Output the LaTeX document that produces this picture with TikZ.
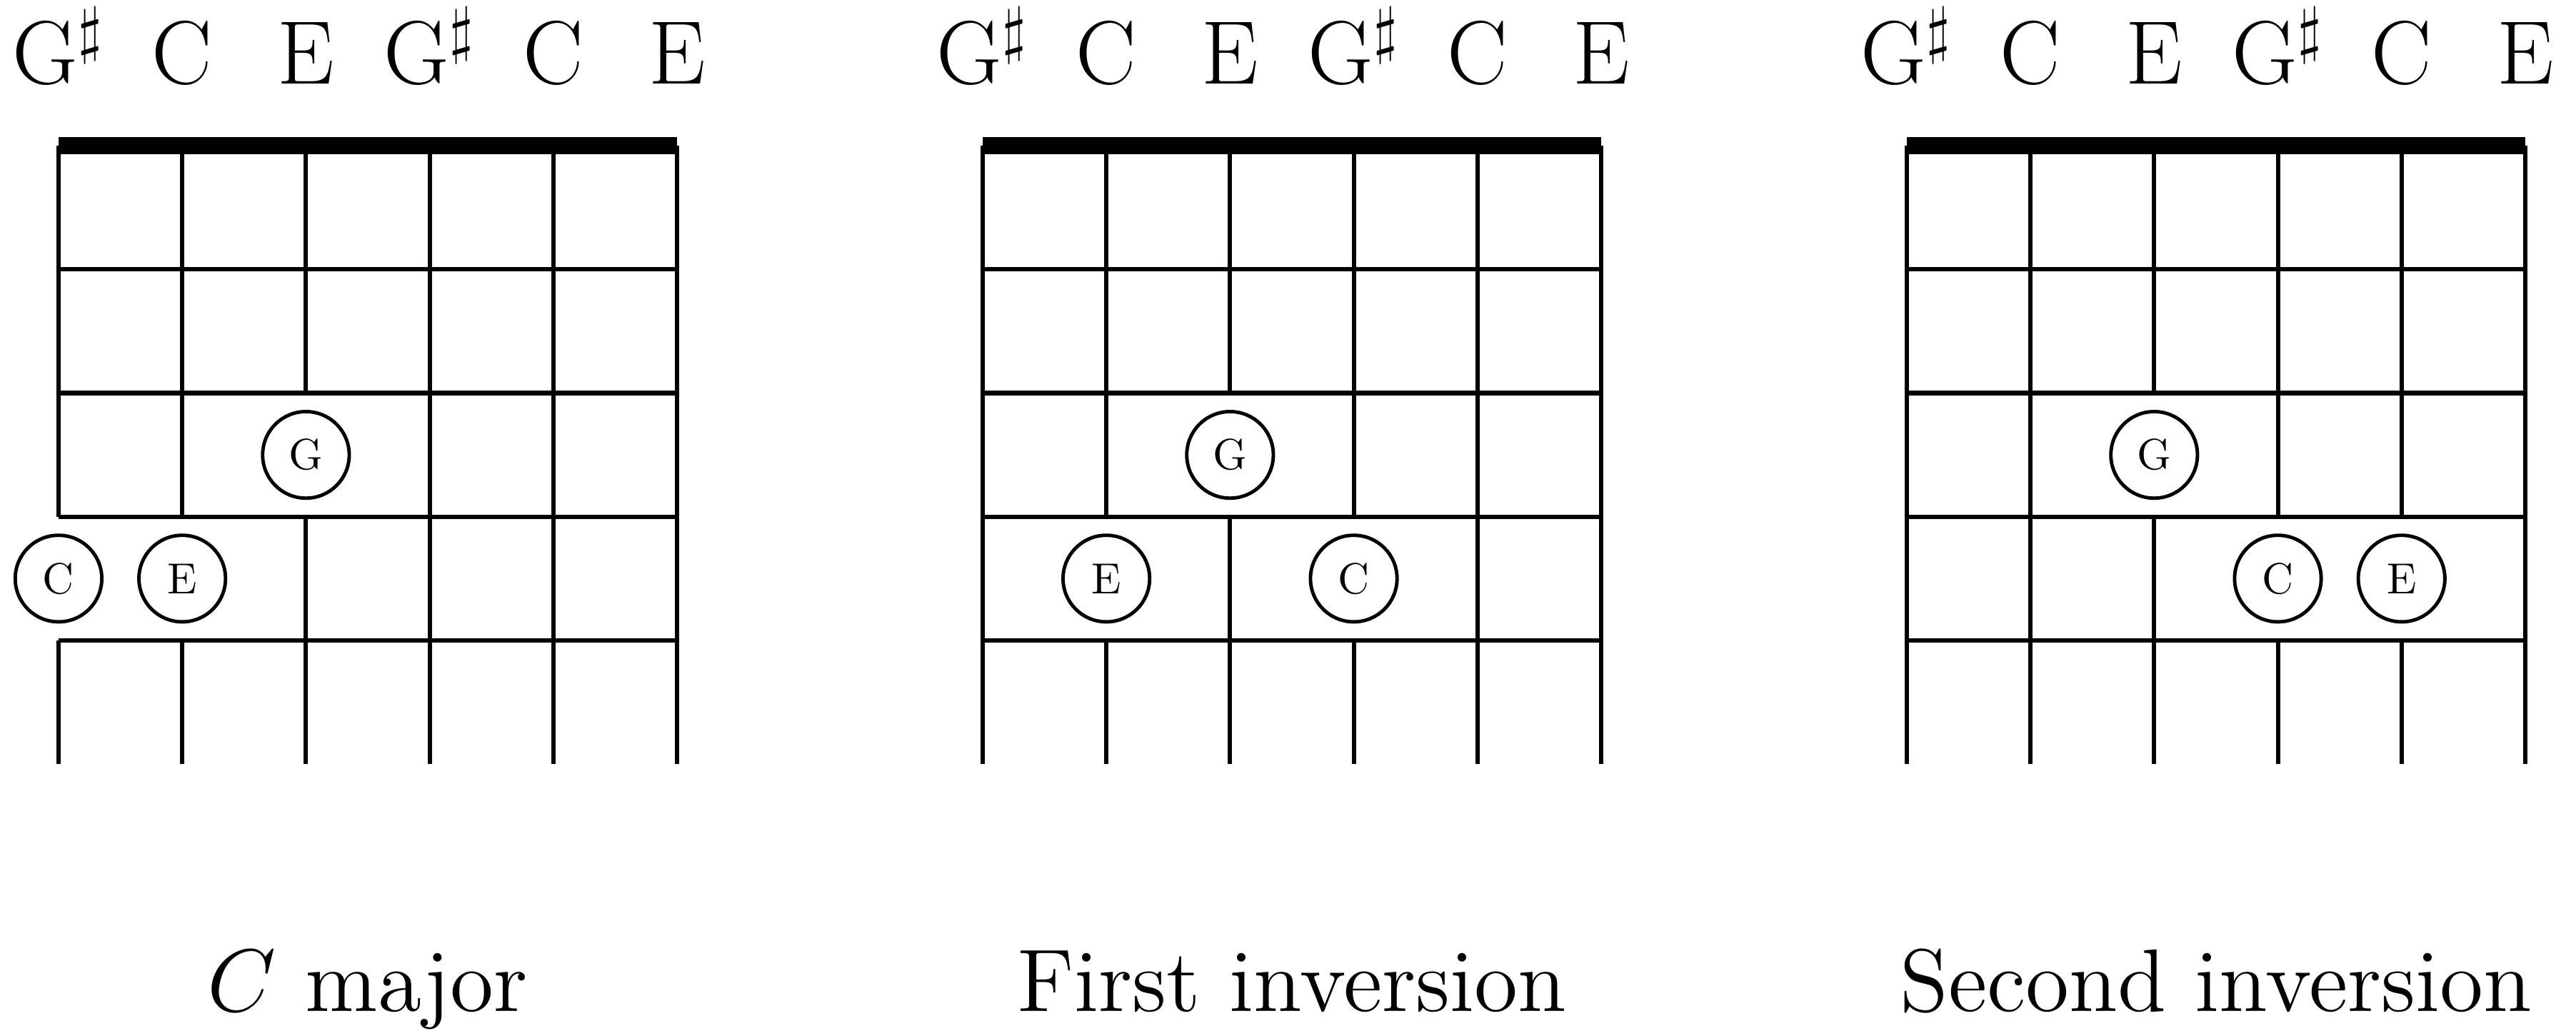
\documentclass[tikz,border=0pt]{standalone}
\usepackage{amssymb}
\usepackage{tikz}

\begin{document}
\begin{tikzpicture}[
    string/.style={line width=1pt},
    nut/.style={line width=4pt},
    note/.style={circle,draw,thick,fill=white,minimum size=0.7cm,inner sep=0pt,font=\normalsize},
    tuning/.style={anchor=base,font=\huge,inner sep=0pt},
    caption/.style={anchor=base,font=\Large,scale=1.42,inner sep=0pt}]
    \useasboundingbox (-0.473,-7.154) rectangle (20.35,1.178);
    \foreach \g/\xs/\cap/\notes in {%
        maj/0/{$C$ major}/{2/3/G,0/4/C,1/4/E},%
        inva/7.47/{First inversion}/{2/3/G,1/4/E,3/4/C},%
        invb/14.94/{Second inversion}/{2/3/G,3/4/C,4/4/E}} {
        \begin{scope}[xshift=\xs cm]
            % strings
            \foreach \x in {0,...,5}
                \draw[string] (\x,0) -- (\x,-5);
            % gaps where a note sits
            \foreach \s/\r/\n in \notes
                \fill[white] (\s-0.1,-\r+1) rectangle (\s+0.1,-\r);
            % frets and nut
            \foreach \y in {1,...,4}
                \draw[string] (0,-\y) -- (5,-\y);
            \coordinate (\g-NL) at (0,0);
            \coordinate (\g-NR) at (5,0);
            \draw[nut] (\g-NL) -- (\g-NR);
            % tuning
            \foreach \x/\t in {0/G$^\sharp$,1/C,2/E,3/G$^\sharp$,4/C,5/E}
                \node[tuning] (\g-t\x) at (\x,0.5) {\t};
            % notes
            \foreach \s/\r/\n in \notes
                \node[note] (\g-\n) at (\s,-\r+0.5) {\n};
            \node[caption] (\g-cap) at (2.5,-7) {\cap};
        \end{scope}
    }
\end{tikzpicture}
\end{document}
